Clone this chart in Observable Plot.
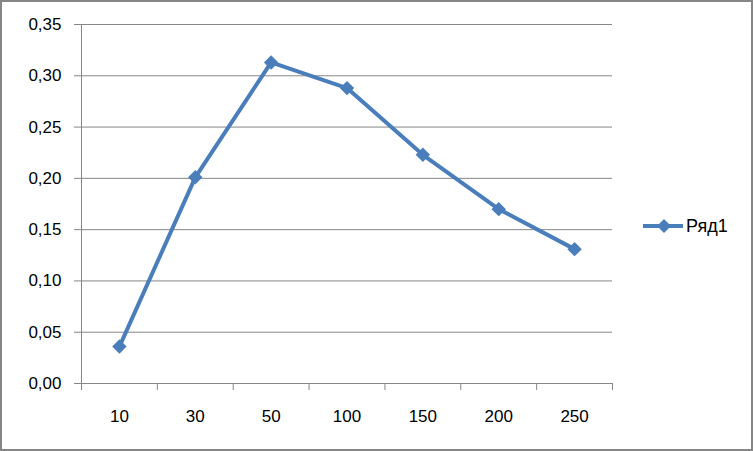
<!DOCTYPE html>
<html>
<head>
<meta charset="utf-8">
<script src="https://cdn.jsdelivr.net/npm/d3@7"></script>
<script src="https://cdn.jsdelivr.net/npm/@observablehq/plot@0.6"></script>
<style>
  body { margin: 0; background: #fff; }
  #wrap { position: relative; width: 753px; height: 451px; overflow: hidden; background: #fff; }
  #frame { position: absolute; left: 0; top: 0; width: 753px; height: 451px; box-sizing: border-box; border: 2px solid #868686; pointer-events: none; }
  #legend { position: absolute; left: 640px; top: 214px; height: 24px; display: flex; align-items: center; font-family: "Liberation Sans", sans-serif; font-size: 18px; color: #000; }
  #legend svg { display: block; }
</style>
</head>
<body>
<div id="wrap">
  <div id="chart"></div>
  <div id="legend"></div>
  <div id="frame"></div>
</div>
<script>
const categories = ["10", "30", "50", "100", "150", "200", "250"];
const values = [0.036, 0.201, 0.313, 0.288, 0.223, 0.170, 0.131];
const yTicks = [0, 0.05, 0.10, 0.15, 0.20, 0.25, 0.30, 0.35];
const seriesName = "Ряд1";
const lineColor = "#4a7ebb";
const gridColor = "#868686";

const indices = categories.map((_, i) => i);
const boundaries = d3.range(categories.length + 1).map(i => i - 0.5);
const fmt = d => d.toFixed(2).replace(".", ",");

const chart = Plot.plot({
  width: 753,
  height: 451,
  marginLeft: 81,
  marginRight: 141,
  marginTop: 24,
  marginBottom: 68,
  x: { type: "linear", domain: [-0.5, categories.length - 0.5], axis: null },
  y: { domain: [0, 0.35], axis: null },
  style: { fontFamily: "Liberation Sans, sans-serif", fontSize: "17px", color: "#000", background: "transparent" },
  marks: [
    Plot.gridY(yTicks, { stroke: gridColor, strokeOpacity: 1 }),
    Plot.axisY(yTicks, { tickSize: 7, tickPadding: 13, tickFormat: fmt, stroke: gridColor, fill: "#000", fontSize: 17 }),
    Plot.ruleX([-0.5], { stroke: gridColor }),
    Plot.axisX(boundaries, { tickSize: 7, tickFormat: () => "", stroke: gridColor }),
    Plot.axisX(indices, { tickSize: 0, tickPadding: 26, tickFormat: i => categories[i], fill: "#000", fontSize: 17 }),
    Plot.line(values, { x: (d, i) => i, y: d => d, stroke: lineColor, strokeWidth: 4 }),
    Plot.dot(values, { x: (d, i) => i, y: d => d, symbol: "diamond2", fill: lineColor, r: 6.5 })
  ]
});
document.getElementById("chart").appendChild(chart);

const legend = document.getElementById("legend");
legend.innerHTML = `<svg width="46" height="24"><line x1="3" y1="12" x2="43" y2="12" stroke="${lineColor}" stroke-width="4"/><path d="M24,5L31,12L24,19L17,12Z" fill="${lineColor}"/></svg><span>${seriesName}</span>`;
</script>
</body>
</html>
